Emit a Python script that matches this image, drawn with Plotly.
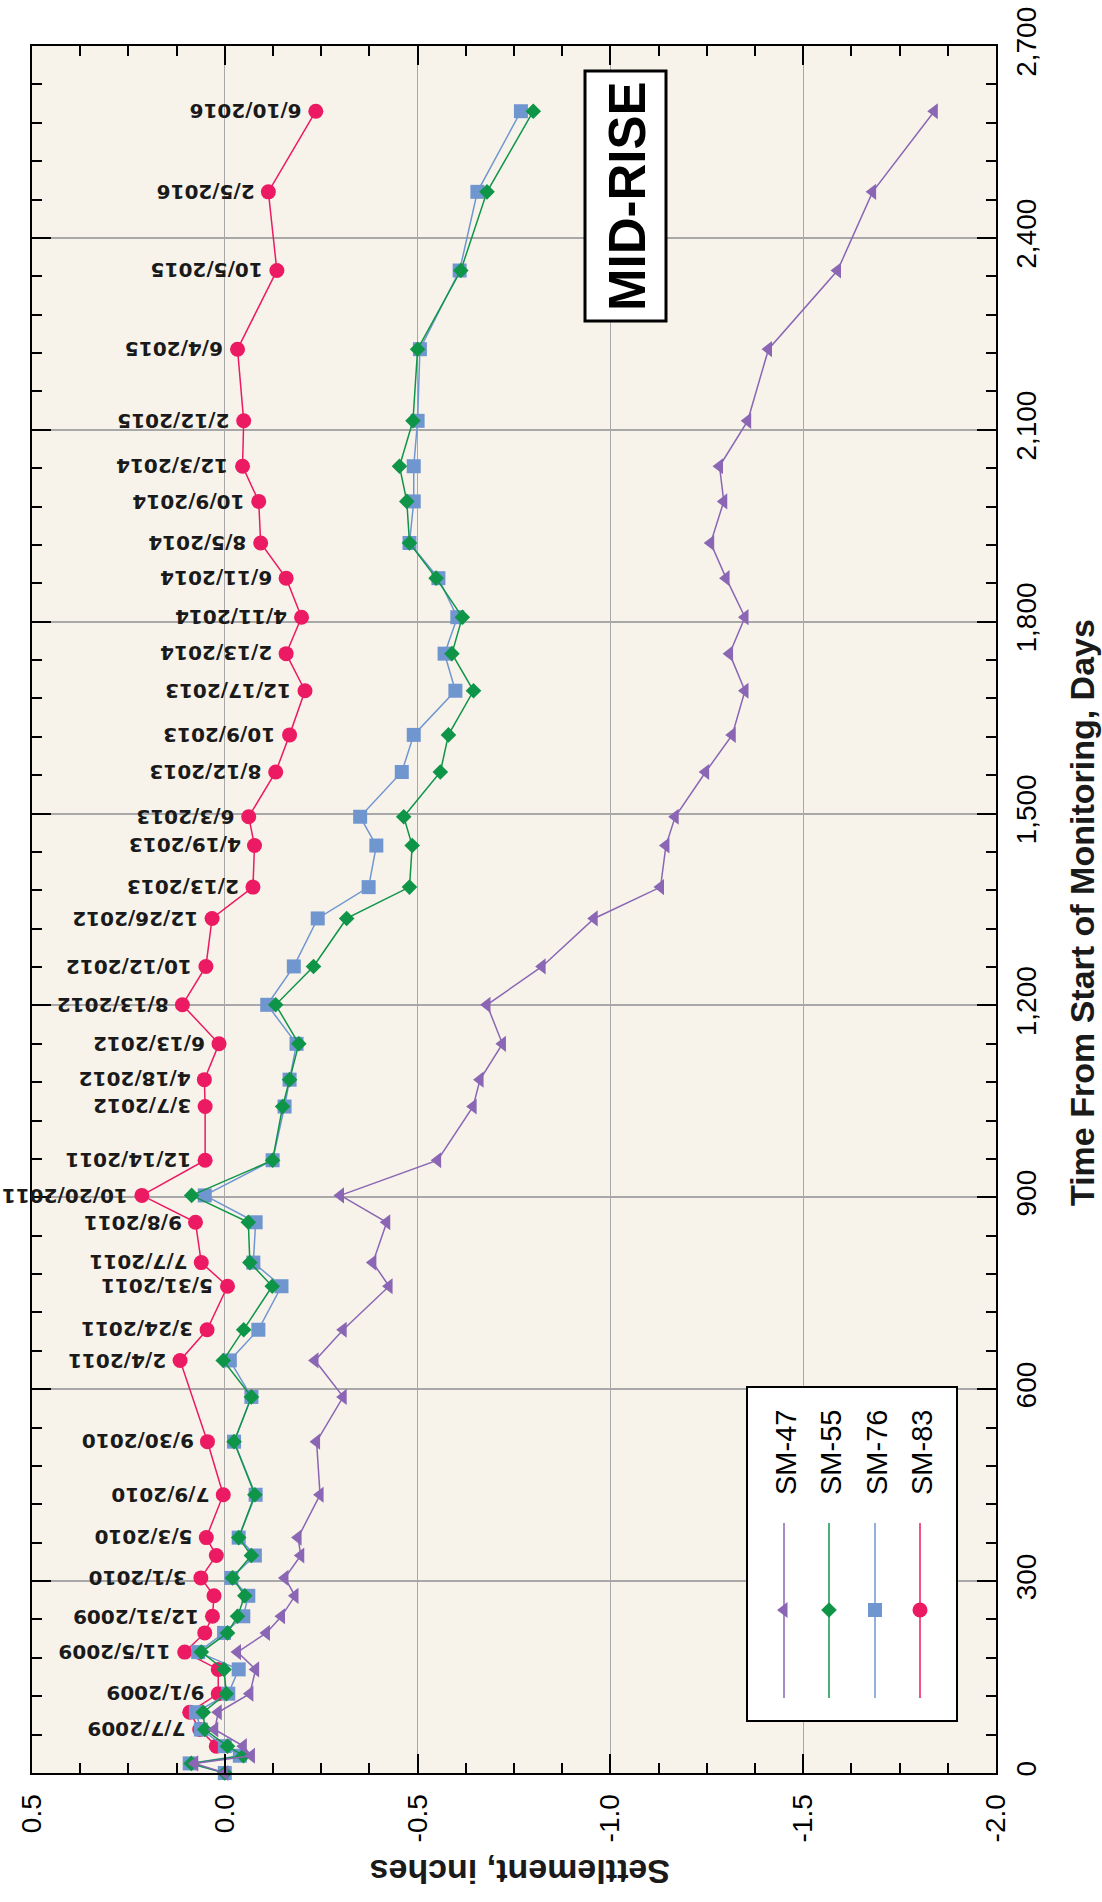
import plotly.graph_objects as go

# ---------------- data ----------------
days = [0, 15, 27, 42, 68, 95, 124, 162, 189, 219,
        245, 277, 305, 340, 368, 435, 518, 588, 645, 693,
        761, 798, 861, 903, 958, 1042, 1084, 1140, 1201, 1261,
        1336, 1385, 1450, 1495, 1565, 1623, 1692, 1750, 1807, 1868,
        1923, 1988, 2043, 2114, 2226, 2349, 2472, 2598]

date_labels = ["", "", "", "", "7/7/2009", "", "9/1/2009", "", "11/5/2009", "",
               "12/31/2009", "", "3/1/2010", "", "5/3/2010", "7/9/2010", "9/30/2010", "", "2/4/2011", "3/24/2011",
               "5/31/2011", "7/7/2011", "9/8/2011", "10/20/2011", "12/14/2011", "3/7/2012", "4/18/2012", "6/13/2012", "8/13/2012", "10/12/2012",
               "12/26/2012", "2/13/2013", "4/19/2013", "6/3/2013", "8/12/2013", "10/9/2013", "12/17/2013", "2/13/2014", "4/11/2014", "6/11/2014",
               "8/5/2014", "10/9/2014", "12/3/2014", "2/12/2015", "6/4/2015", "10/5/2015", "2/5/2016", "6/10/2016"]

sm83 = [None, None, None, 0.022, 0.065, 0.091, 0.017, 0.017, 0.104, 0.052,
        0.032, 0.028, 0.062, 0.022, 0.048, 0.004, 0.045, None, 0.116, 0.046,
        -0.007, 0.061, 0.076, 0.215, 0.051, 0.051, 0.053, 0.015, 0.110, 0.049,
        0.033, -0.073, -0.077, -0.062, -0.132, -0.168, -0.208, -0.159, -0.199, -0.159,
        -0.093, -0.088, -0.046, -0.049, -0.033, -0.135, -0.113, -0.236]

sm76 = [0.0, 0.091, -0.039, 0.0, 0.062, 0.075, -0.009, -0.036, 0.069, 0.002,
        -0.048, -0.061, -0.017, -0.078, -0.036, -0.080, -0.024, -0.069, -0.013, -0.087,
        -0.147, -0.074, -0.080, 0.052, -0.124, -0.155, -0.168, -0.186, -0.110, -0.179,
        -0.241, -0.373, -0.393, -0.351, -0.459, -0.490, -0.598, -0.570, -0.603, -0.554,
        -0.479, -0.490, -0.490, -0.500, -0.506, -0.609, -0.655, -0.768]

sm55 = [0.0, 0.087, -0.048, -0.007, 0.052, 0.056, -0.004, 0.002, 0.061, -0.007,
        -0.033, -0.052, -0.020, -0.069, -0.036, -0.078, -0.024, -0.069, 0.004, -0.049,
        -0.123, -0.065, -0.061, 0.086, -0.124, -0.150, -0.168, -0.192, -0.132, -0.230,
        -0.316, -0.479, -0.486, -0.464, -0.559, -0.580, -0.645, -0.589, -0.616, -0.548,
        -0.479, -0.472, -0.453, -0.488, -0.500, -0.612, -0.680, -0.800]

sm47 = [0.0, 0.078, -0.069, -0.048, 0.026, 0.017, -0.065, -0.080, -0.033, -0.108,
        -0.147, -0.182, -0.156, -0.197, -0.190, -0.247, -0.238, -0.307, -0.234, -0.307,
        -0.426, -0.384, -0.420, -0.300, -0.552, -0.644, -0.662, -0.720, -0.680, -0.823,
        -0.958, -1.130, -1.144, -1.168, -1.247, -1.316, -1.349, -1.309, -1.349, -1.300,
        -1.260, -1.294, -1.283, -1.356, -1.410, -1.589, -1.680, -1.840]

series_names = ["SM-47", "SM-55", "SM-76", "SM-83"]
x_ticks = [0.5, 0.0, -0.5, -1.0, -1.5, -2.0]
x_tick_text = ["0.5", "0.0", "-0.5", "-1.0", "-1.5", "-2.0"]
y_ticks = [0, 300, 600, 900, 1200, 1500, 1800, 2100, 2400, 2700]

# ---------------- styles / layout geometry ----------------
COL = {"SM-47": "#8A66B4", "SM-55": "#0F9548", "SM-76": "#7096D0", "SM-83": "#EC1A62"}
SYM = {"SM-47": "triangle-left", "SM-55": "diamond", "SM-76": "square", "SM-83": "circle"}
SIZE = {"SM-47": 14, "SM-55": 12, "SM-76": 14, "SM-83": 15}
VALS = {"SM-47": sm47, "SM-55": sm55, "SM-76": sm76, "SM-83": sm83}

W, H = 1102, 1902
L, R, T, B = 32, 996, 46, 1773
X0, X1 = 0.5, -2.0
Y0, Y1 = 0, 2700
SANS = "Liberation Sans, Arial, sans-serif"


def ux(px):  # pixel -> settlement axis value (legend/box placement only)
    return X0 + (px - L) / (R - L) * (X1 - X0)


def uy(py):  # pixel -> time axis value
    return Y0 + (B - py) / (B - T) * (Y1 - Y0)


def paper_x(px):
    return (px - L) / (R - L)


def paper_y(py):
    return (B - py) / (B - T)


fig = go.Figure()

# draw order: red bottom, then blue, green, purple
for name in ["SM-83", "SM-76", "SM-55", "SM-47"]:
    fig.add_trace(go.Scatter(
        x=VALS[name], y=days, mode="lines+markers", name=name,
        line=dict(color=COL[name], width=1.5),
        marker=dict(symbol=SYM[name], size=SIZE[name], color=COL[name], line=dict(width=0)),
        connectgaps=True, cliponaxis=False, showlegend=False))

# hand-built rotated legend
legend_cols = [784, 829, 875, 920]
shapes = []
shapes.append(dict(type="rect", xref="x", yref="y", x0=ux(747), x1=ux(957), y0=uy(1387), y1=uy(1721),
                   fillcolor="white", line=dict(color="black", width=2), layer="between"))
for i, name in enumerate(series_names):
    shapes.append(dict(type="line", xref="x", yref="y", x0=ux(legend_cols[i]), x1=ux(legend_cols[i]),
                       y0=uy(1523), y1=uy(1698), line=dict(color=COL[name], width=1.5), layer="between"))
    fig.add_trace(go.Scatter(
        x=[ux(legend_cols[i])], y=[uy(1610)], mode="markers",
        marker=dict(symbol=SYM[name], size=SIZE[name], color=COL[name], line=dict(width=0)),
        showlegend=False, hoverinfo="skip", cliponaxis=False))
# MID-RISE box
shapes.append(dict(type="rect", xref="x", yref="y", x0=ux(585), x1=ux(666), y0=uy(71), y1=uy(321),
                   fillcolor="white", line=dict(color="black", width=3), layer="between"))

annotations = []
for i, name in enumerate(series_names):
    annotations.append(dict(xref="x", yref="y", x=ux(legend_cols[i] + 2), y=uy(1453), text=name,
                            textangle=-90, showarrow=False, xanchor="center", yanchor="middle",
                            font=dict(family=SANS, size=29, color="black")))
annotations.append(dict(xref="x", yref="y", x=ux(627), y=uy(196), text="<b>MID-RISE</b>", textangle=-90,
                        showarrow=False, xanchor="center", yanchor="middle",
                        font=dict(family=SANS, size=51, color="black")))
# date labels next to SM-83 points
for lab, v, d in zip(date_labels, sm83, days):
    if lab and v is not None:
        annotations.append(dict(xref="x", yref="y", x=v, y=d, text="<b>" + lab + "</b>", textangle=180,
                                showarrow=False, xanchor="right", yanchor="middle", xshift=-12,
                                font=dict(family="DejaVu Sans", size=20, color="#1a1a1a")))
# axis titles (paper coordinates)
annotations.append(dict(xref="paper", yref="paper", x=paper_x(520), y=paper_y(1872),
                        text="<b>Settlement, inches</b>", textangle=180,
                        showarrow=False, xanchor="center", yanchor="middle",
                        font=dict(family=SANS, size=34, color="#1a1a1a")))
annotations.append(dict(xref="paper", yref="paper", x=paper_x(1082), y=paper_y(913),
                        text="<b>Time From Start of Monitoring, Days</b>",
                        textangle=-90, showarrow=False, xanchor="center", yanchor="middle",
                        font=dict(family=SANS, size=34, color="#1a1a1a")))

fig.update_layout(
    width=W, height=H, autosize=False,
    margin=dict(l=L, r=W - R, t=T, b=H - B, pad=0),
    paper_bgcolor="white", plot_bgcolor="#F7F3EA",
    showlegend=False,
    shapes=shapes, annotations=annotations,
    xaxis=dict(range=[X0, X1], tickmode="array", tickvals=x_ticks, ticktext=x_tick_text,
               ticks="inside", ticklen=19, tickwidth=1.5, tickcolor="black",
               showline=True, linecolor="black", linewidth=2, mirror="ticks",
               showgrid=True, gridcolor="#A8A8A8", gridwidth=1, zeroline=False,
               minor=dict(dtick=0.125, tick0=0, ticks="inside", ticklen=10, tickwidth=1.5,
                          tickcolor="black", showgrid=False),
               tickangle=-90, tickfont=dict(family=SANS, size=28, color="black"),
               ticklabelstandoff=8, automargin=False),
    yaxis=dict(range=[Y0, Y1], tickmode="array", tickvals=y_ticks, tickformat=",d", side="right",
               ticks="inside", ticklen=19, tickwidth=1.5, tickcolor="black",
               showline=True, linecolor="black", linewidth=2, mirror="ticks",
               showgrid=True, gridcolor="#A8A8A8", gridwidth=2, zeroline=False,
               minor=dict(dtick=60, tick0=0, ticks="inside", ticklen=10, tickwidth=1.5,
                          tickcolor="black", showgrid=False),
               tickangle=-90, tickfont=dict(family=SANS, size=28, color="black"),
               ticklabelstandoff=4, automargin=False),
)

fig.write_html("out.html", config={"displayModeBar": False},
               post_script="document.body.style.margin='0px';document.body.style.overflow='hidden';")
